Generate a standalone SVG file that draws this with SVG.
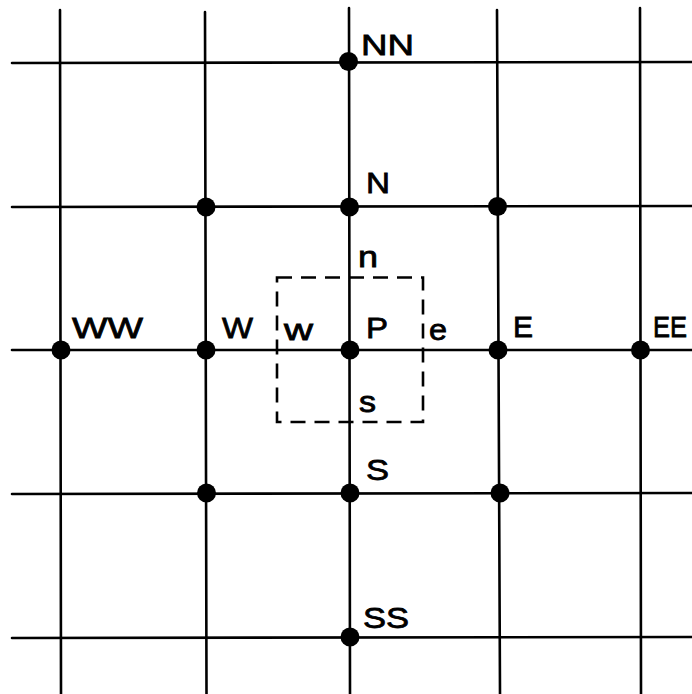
<svg xmlns="http://www.w3.org/2000/svg" width="692" height="694" viewBox="0 0 692 694">
<style>
.grid line{stroke:#000;stroke-width:2.6;stroke-linecap:round}
.node circle{fill:#000}
.lbl{font-family:"Liberation Sans",Arial,sans-serif;font-size:30px;fill:#000;stroke:#000;stroke-width:0.8}
.cv{fill:none;stroke:#000;stroke-width:2.6;stroke-dasharray:15 9}
</style>
<rect width="692" height="694" fill="#fff"/>
<g id="connectors" class="grid">
<line x1="60" y1="10" x2="61" y2="694"/>
<line x1="205" y1="12" x2="206.5" y2="694"/>
<line x1="349" y1="8" x2="350" y2="694"/>
<line x1="497" y1="10" x2="500" y2="694"/>
<line x1="640" y1="8" x2="641" y2="694"/>
<line x1="12" y1="63" x2="692" y2="62"/>
<line x1="12" y1="207" x2="692" y2="206"/>
<line x1="12" y1="350" x2="692" y2="350"/>
<line x1="12" y1="494" x2="692" y2="493"/>
<line x1="12" y1="638" x2="692" y2="637"/>
</g>
<rect id="control-volume" class="cv" x="277" y="277.5" width="146" height="144.5"/>
<g id="NN" class="node"><circle cx="348.5" cy="61.5" r="9.5"/><text class="lbl" x="361" y="55" textLength="53" lengthAdjust="spacingAndGlyphs">NN</text></g>
<g id="N" class="node"><circle cx="349.5" cy="207" r="9.5"/><text class="lbl" x="366" y="193" textLength="24" lengthAdjust="spacingAndGlyphs">N</text></g>
<g id="NW" class="node"><circle cx="206" cy="207" r="9.5"/></g>
<g id="NE" class="node"><circle cx="497.5" cy="206.5" r="9.5"/></g>
<g id="WW" class="node"><circle cx="61" cy="350" r="9.5"/><text class="lbl" x="72" y="338" textLength="71" lengthAdjust="spacingAndGlyphs">WW</text></g>
<g id="W" class="node"><circle cx="206" cy="350" r="9.5"/><text class="lbl" x="222" y="338" textLength="31" lengthAdjust="spacingAndGlyphs">W</text></g>
<g id="P" class="node"><circle cx="350" cy="350" r="9.5"/><text class="lbl" x="366" y="338" textLength="22" lengthAdjust="spacingAndGlyphs">P</text></g>
<g id="E" class="node"><circle cx="498" cy="350" r="9.5"/><text class="lbl" x="513" y="337" textLength="20" lengthAdjust="spacingAndGlyphs">E</text></g>
<g id="EE" class="node"><circle cx="640.5" cy="350" r="9.5"/><text class="lbl" x="653" y="337" textLength="34" lengthAdjust="spacingAndGlyphs">EE</text></g>
<g id="SW" class="node"><circle cx="206.5" cy="493" r="9.5"/></g>
<g id="S" class="node"><circle cx="350" cy="493" r="9.5"/><text class="lbl" x="366" y="480" textLength="23" lengthAdjust="spacingAndGlyphs">S</text></g>
<g id="SE" class="node"><circle cx="500" cy="493" r="9.5"/></g>
<g id="SS" class="node"><circle cx="350" cy="637" r="9.5"/><text class="lbl" x="363" y="628" textLength="46" lengthAdjust="spacingAndGlyphs">SS</text></g>
<g id="faces">
<text class="lbl" x="358" y="267" textLength="20" lengthAdjust="spacingAndGlyphs">n</text>
<text class="lbl" x="359" y="412" textLength="17" lengthAdjust="spacingAndGlyphs">s</text>
<text class="lbl" x="284" y="340" textLength="29" lengthAdjust="spacingAndGlyphs">w</text>
<text class="lbl" x="429" y="340" textLength="18" lengthAdjust="spacingAndGlyphs">e</text>
</g>
</svg>
